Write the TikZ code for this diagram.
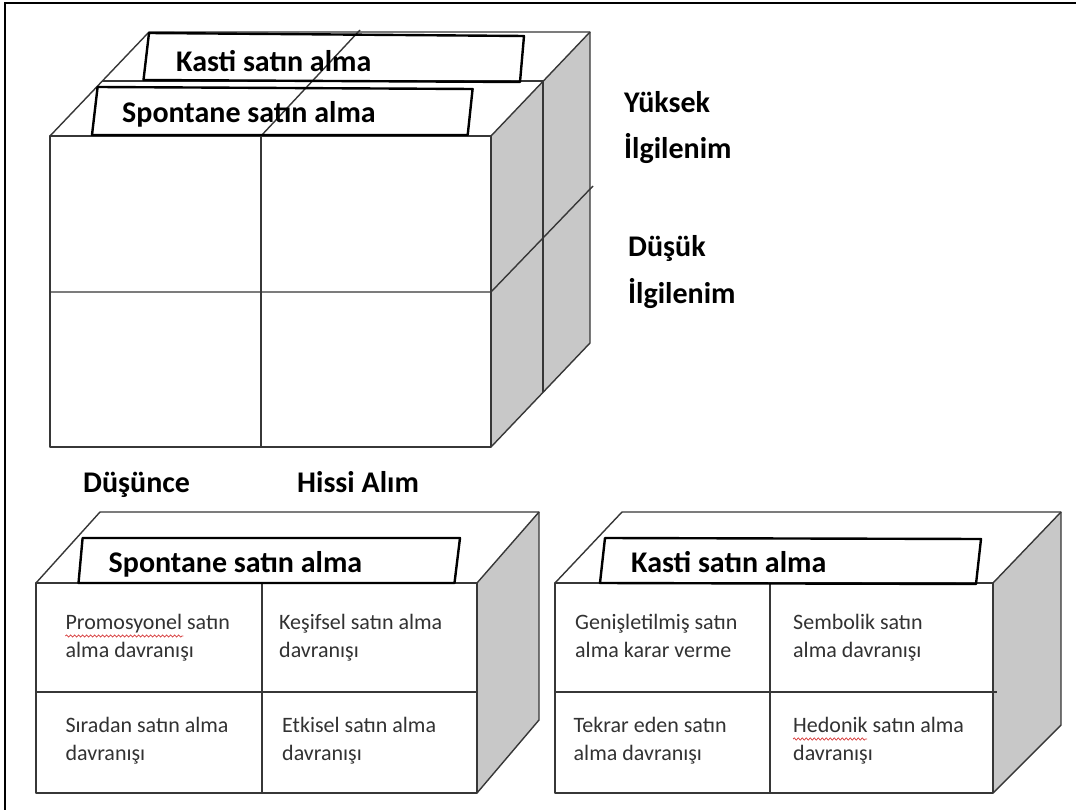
\documentclass[tikz,border=0pt]{standalone}
\usepackage{fontspec}
\setmainfont{Carlito}
\usetikzlibrary{decorations.pathmorphing,calc}
\definecolor{sidegray}{RGB}{200,200,200}
\definecolor{edgec}{RGB}{55,55,55}
\definecolor{celltext}{RGB}{50,50,50}
\definecolor{spell}{RGB}{215,60,60}
\begin{document}
\begin{tikzpicture}[x=1pt,y=-1pt,
  edge/.style={draw=edgec,line width=1.4pt,line join=round},
  side/.style={fill=sidegray},
  labelbox/.style={draw=black,line width=2.4pt,line join=round},
  frame/.style={draw=black,line width=2pt},
  btxt/.style={font=\fontsize{30}{34}\selectfont\bfseries,anchor=base west,inner sep=0pt,text=black},
  cell/.style={font=\fontsize{22}{28}\selectfont,anchor=base west,inner sep=0pt,text=celltext,align=left},
  squiggle/.style={draw=spell,line width=0.7pt,decorate,decoration={snake,amplitude=1.1pt,segment length=4pt}}]
\useasboundingbox (0,0) rectangle (1076,810);
\fill[white] (0,0) rectangle (1076,810);
% outer frame (top and left only visible)
\draw[frame] (5,810) -- (5,3.5) -- (1076,3.5);

% ===== top cube =====
\coordinate (A) at (50,136);  \coordinate (B) at (491,136);
\coordinate (C) at (491,447); \coordinate (D) at (50,447);
\coordinate (M1) at (102,81); \coordinate (M2) at (543,81); \coordinate (M3) at (543,392);
\coordinate (K1) at (149,32); \coordinate (K2) at (590,32); \coordinate (K3) at (590,343);
\path[side] (B) -- (M2) -- (M3) -- (C) -- cycle;
\path[side] (M2) -- (K2) -- (K3) -- (M3) -- cycle;
\draw[edge] (A) rectangle (C);
\draw[edge] (A) -- (K1) -- (K2) -- (K3) -- (C);
\draw[edge] (M1) -- (M2) -- (M3);
\draw[edge] (B) -- (K2);
\draw[edge] (261,136) -- (261,447);
\draw[edge] (261,136) -- (360,30);
\draw[edge] (50,292) -- (491,292) -- (593,186);
\draw[labelbox] (149,33) -- (524,36) -- (520,82) -- (143.5,80) -- cycle;
\draw[labelbox] (97.6,87) -- (472.6,89) -- (467.7,135) -- (92,135) -- cycle;
\node[btxt] (tk) at (176,72) {Kasti satın alma};
\node[btxt] (ts) at (122,123) {Spontane satın alma};

\node[btxt] (y1) at (624,113) {Yüksek};
\node[btxt] (y2) at (624,159) {İlgilenim};
\node[btxt] (d1) at (628,257) {Düşük};
\node[btxt] (d2) at (628,303) {İlgilenim};
\node[btxt] (dus) at (83,492) {Düşünce};
\node[btxt] (his) at (297,492) {Hissi Alım};

% ===== bottom-left box =====
\path[side] (477,583) -- (539,512) -- (539,720) -- (477,793) -- cycle;
\draw[edge] (36,583) rectangle (477,793);
\draw[edge] (36,583) -- (100,512) -- (539,512) -- (539,720) -- (477,793);
\draw[edge] (477,583) -- (539,512);
\draw[edge] (262,583) -- (262,793);
\draw[edge] (36,692) -- (477,692);
\draw[labelbox] (82.6,538) -- (460,538) -- (454.5,583) -- (78.5,583) -- cycle;
\node[btxt] (bs) at (108.5,572) {Spontane satın alma};
\node[cell] (c1) at (65.4,657) {Promosyonel satın\\alma davranışı};
\node[cell] (c2) at (279,657) {Keşifsel satın alma\\davranışı};
\node[cell] (c3) at (65.4,760) {Sıradan satın alma\\davranışı};
\node[cell] (c4) at (282,760) {Etkisel satın alma\\davranışı};
\draw[squiggle] ($(c1.base west)+(0,-21)$) -- ($(c1.base west)+(118,-21)$);

% ===== bottom-right box =====
\path[side] (993,583) -- (1061,512) -- (1061,725) -- (993,793) -- cycle;
\draw[edge] (555,583) rectangle (993,793);
\draw[edge] (555,583) -- (622,512) -- (1061,512) -- (1061,725) -- (993,793);
\draw[edge] (993,583) -- (1061,512);
\draw[edge] (770,583) -- (770,793);
\draw[edge] (555,692) -- (997,692);
\draw[labelbox] (605,538) -- (981,539) -- (976,584) -- (600,583) -- cycle;
\node[btxt] (bk) at (631,572) {Kasti satın alma};
\node[cell] (e1) at (575,657) {Genişletilmiş satın\\alma karar verme};
\node[cell] (e2) at (793,657) {Sembolik satın\\alma davranışı};
\node[cell] (e3) at (573.5,760) {Tekrar eden satın\\alma davranışı};
\node[cell] (e4) at (793,760) {Hedonik satın alma\\davranışı};
\draw[squiggle] ($(e4.base west)+(0,-21)$) -- ($(e4.base west)+(74,-21)$);
\end{tikzpicture}
\end{document}
